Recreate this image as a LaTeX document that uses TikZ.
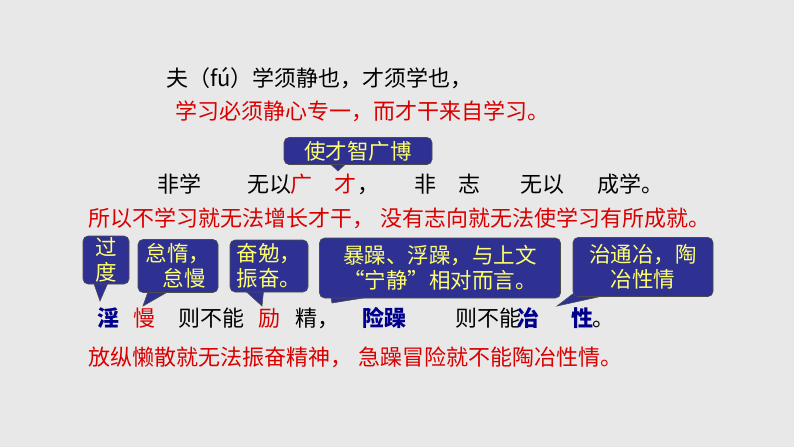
\documentclass[tikz,border=0pt]{standalone}
\usepackage{fontspec}
\setmainfont{Noto Sans CJK SC}
\begin{document}
\begin{tikzpicture}[x=1pt,y=-1pt,
  t/.style={anchor=base west,inner sep=0pt,font=\fontsize{22}{26}\selectfont},
  rd/.style={t,text=red!85!black},
  bl/.style={t,text=blue!55!black,font=\fontsize{22}{26}\selectfont\bfseries},
  callout/.style={draw=black!70,line width=0.6pt,fill=cbox,rounded corners=5pt,text=cyel,font=\fontsize{21.5}{25}\selectfont,align=center,inner sep=0pt},
  tail/.style={draw=black!70,line width=0.6pt,fill=cbox}]
\definecolor{cbox}{RGB}{46,49,146}
\definecolor{cyel}{RGB}{255,255,110}
\definecolor{bg}{RGB}{232,232,232}
\fill[bg] (0,0) rectangle (794,447);
\useasboundingbox (0,0) rectangle (794,447);
% line 1
\node[t] (l1) at (166,86) {夫（fú）学须静也，才须学也，};
\node[rd] (l2) at (175,119) {学习必须静心专一，而才干来自学习。};
% line 4
\node[t] (a1) at (157,192) {非学};
\node[t] (a2) at (247,192) {无以};
\node[rd] (a3) at (290,192) {广};
\node[rd] (a4) at (334,192) {才};
\node[t] (a5) at (357,192) {，};
\node[t] (a6) at (414,192) {非};
\node[t] (a7) at (458,192) {志};
\node[t] (a8) at (520,192) {无以};
\node[t] (a9) at (597,192) {成学。};
\node[rd] (l5) at (88,226) {所以不学习就无法增长才干，\hspace{0.3em}没有志向就无法使学习有所成就。};
% line 7
\node[bl] (b1) at (97,326) {淫};
\node[rd] (b2) at (133,326) {慢};
\node[t] (b3) at (178,326) {则不能};
\node[rd] (b4) at (258,326) {励};
\node[t] (b5) at (295,326) {精，};
\node[bl] (b6) at (362,326) {险躁};
\node[t] (b7) at (455,326) {则不能};
\node[bl] (b8) at (517,326) {冶};
\node[bl] (b9) at (571,326) {性};
\node[t] (b10) at (592,326) {。};
\node[rd] (l8) at (88,365) {放纵懒散就无法振奋精神，\hspace{0.3em}急躁冒险就不能陶冶性情。};
% callouts: tails
\coordinate (p0) at (338,171);
\coordinate (p1) at (100,301);
\coordinate (p2) at (143,306);
\coordinate (p3) at (262,306);
\coordinate (p4) at (332,303);
\coordinate (p5) at (557,306);
\draw[tail] (326,160) -- (p0) -- (350,160) -- cycle;
\draw[tail] (92,278) -- (p1) -- (110,278) -- cycle;
\draw[tail] (150,286) -- (p2) -- (178,286) -- cycle;
\draw[tail] (240,286) -- (p3) -- (264,286) -- cycle;
\draw[tail] (330,292) -- (p4) -- (400,292) -- cycle;
\draw[tail] (578,290) -- (p5) -- (630,290) -- cycle;
\node[callout,minimum width=148,minimum height=27] (c0) at (358,151) {使才智广博};
\node[callout,minimum width=46,minimum height=48] (c1) at (106,260) {过\\度};
\node[callout,minimum width=80,minimum height=53] (c2) at (178,266) {怠惰，\\\hspace*{0.6em}怠慢};
\node[callout,minimum width=78,minimum height=52] (c3) at (269,266) {奋勉，\\振奋。};
\node[callout,minimum width=241,minimum height=60] (c4) at (440,268) {暴躁、浮躁，与上文\\“宁静”相对而言。};
\node[callout,minimum width=140,minimum height=59] (c5) at (643,267) {治通冶，陶\\冶性情};
\end{tikzpicture}
\end{document}
